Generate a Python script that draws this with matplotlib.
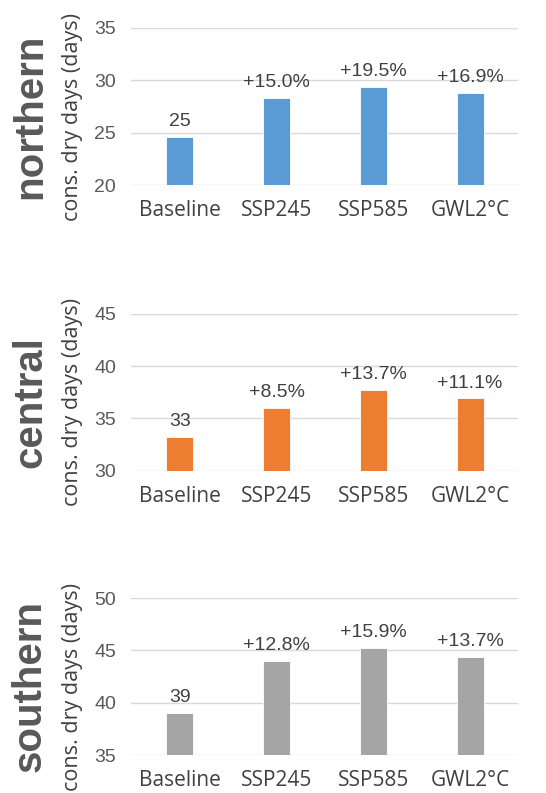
import matplotlib.pyplot as plt
import numpy as np

# Data
scenarios = ['Baseline', 'SSP245', 'SSP585', 'GWL2°C']
regions = ['northern', 'central', 'southern']
northern = [24.6, 28.3, 29.4, 28.8]
central = [33.2, 36.0, 37.75, 36.9]
southern = [39.0, 44.0, 45.2, 44.35]
labels_north = ['25', '+15.0%', '+19.5%', '+16.9%']
labels_central = ['33', '+8.5%', '+13.7%', '+11.1%']
labels_south = ['39', '+12.8%', '+15.9%', '+13.7%']
ylims = [(20, 35), (30, 45), (35, 50)]
colors = ['#5b9bd5', '#ed7d31', '#a5a5a5']

values = [northern, central, southern]
bar_labels = [labels_north, labels_central, labels_south]

fig = plt.figure(figsize=(5.46, 7.93), dpi=100)
bottoms = [0.7667, 0.4064, 0.0479]

x = np.arange(len(scenarios))
for i in range(3):
    ax = fig.add_axes([0.2408, bottoms[i], 0.7088, 0.198])
    bars = ax.bar(x, values[i], width=0.28, color=colors[i],
                  edgecolor='white', linewidth=0.6, zorder=3)
    lo, hi = ylims[i]
    ax.set_ylim(lo, hi)
    ax.set_xlim(-0.5, 3.5)
    ax.set_yticks(np.arange(lo, hi + 1, 5))
    ax.grid(axis='y', color='#d9d9d9', linewidth=1, zorder=0)
    for s in ax.spines.values():
        s.set_visible(False)
    ax.tick_params(axis='both', length=0, colors='#595959')
    ax.tick_params(axis='y', labelsize=14, pad=11)
    ax.set_xticks(x)
    ax.set_xticklabels(scenarios, fontsize=15, family='Open Sans',
                       color='#404040')
    ax.tick_params(axis='x', pad=11)
    for lab in ax.get_yticklabels():
        lab.set_family('Liberation Sans')
    for b, t in zip(bars, bar_labels[i]):
        ax.annotate(t, (b.get_x() + b.get_width() / 2, b.get_height()),
                    xytext=(0, 5), textcoords='offset points',
                    ha='center', va='bottom', fontsize=14,
                    family='Liberation Sans', color='#404040')
    ax.set_ylabel('cons. dry days (days)', fontsize=15.5, family='Open Sans',
                  color='#404040')
    ax.yaxis.set_label_coords(-0.125, 0.435)
    ax.text(-0.262, 0.44, regions[i], transform=ax.transAxes, rotation=90,
            ha='center', va='center', fontsize=29, fontweight='bold',
            family='Liberation Sans', color='#595959')

fig.savefig('out.png', dpi=100)
